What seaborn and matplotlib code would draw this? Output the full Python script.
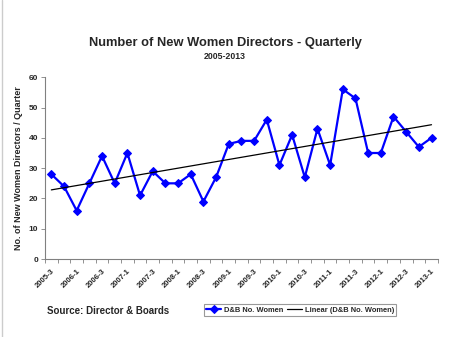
import numpy as np
import pandas as pd
import matplotlib
matplotlib.use("Agg")
import matplotlib.pyplot as plt
from matplotlib.lines import Line2D
import seaborn as sns

quarters = ["2005-3", "2005-4", "2006-1", "2006-2", "2006-3", "2006-4", "2007-1", "2007-2",
            "2007-3", "2007-4", "2008-1", "2008-2", "2008-3", "2008-4", "2009-1", "2009-2",
            "2009-3", "2009-4", "2010-1", "2010-2", "2010-3", "2010-4", "2011-1", "2011-2",
            "2011-3", "2011-4", "2012-1", "2012-2", "2012-3", "2012-4", "2013-1"]
new_women = [28, 24, 16, 25, 34, 25, 35, 21, 29, 25, 25, 28, 19, 27, 38, 39,
             39, 46, 31, 41, 27, 43, 31, 56, 53, 35, 35, 47, 42, 37, 40]
y_ticks = [0, 10, 20, 30, 40, 50, 60]

sns.set_theme(style="white")
plt.rcParams['font.family'] = ['Liberation Sans', 'DejaVu Sans']

df = pd.DataFrame({"idx": np.arange(len(quarters)), "val": new_women})

fig = plt.figure(figsize=(4.5, 3.37), dpi=100)
ax = fig.add_axes([0.1, 0.231, 0.873, 0.54])

sns.lineplot(data=df, x="idx", y="val", ax=ax, color="#0000FF", lw=1.6,
             marker="D", markersize=4.3, markeredgecolor="#0000FF",
             label="D&B No. Women", legend=False)
coef = np.polyfit(df["idx"], df["val"], 1)
trend = np.polyval(coef, df["idx"])
sns.lineplot(x=df["idx"], y=trend, ax=ax, color="black", lw=0.9,
             label="Linear (D&B No. Women)", legend=False)

ax.set_xlim(-0.5, len(quarters) - 0.5)
ax.set_ylim(0, 60)
ax.set_yticks(y_ticks)
ax.set_yticklabels([str(v) for v in y_ticks], fontsize=6, fontweight="bold")
ax.set_xticks(np.arange(0, len(quarters), 2))
ax.set_xticklabels(quarters[::2], rotation=45, ha="right", rotation_mode="anchor",
                   fontsize=5.5, fontweight="bold")
ax.set_xticks(np.arange(-0.5, len(quarters), 1), minor=True)
ax.tick_params(axis="x", which="major", length=0, pad=6)
ax.tick_params(axis="x", which="minor", length=3, width=0.6, color="#808080", bottom=True)
ax.tick_params(axis="y", length=3, width=0.6, color="#808080", left=True, pad=2)
ax.set_xlabel("")
ax.set_ylabel("No. of New Women Directors / Quarter", fontsize=6.5, fontweight="bold")
for s in ["top", "right"]:
    ax.spines[s].set_visible(False)
for s in ["left", "bottom"]:
    ax.spines[s].set_color("#808080")
    ax.spines[s].set_linewidth(0.8)

fig.text(0.5, 0.872, "Number of New Women Directors - Quarterly", ha="center",
         va="center", fontsize=9.3, fontweight="bold")
fig.text(0.5, 0.832, "2005-2013", ha="center", va="center", fontsize=6.3, fontweight="bold")
fig.text(0.105, 0.077, "Source: Director & Boards", ha="left", va="center",
         fontsize=7, fontweight="bold")

h, l = ax.get_legend_handles_labels()
leg = fig.legend(h, l, loc="center", bbox_to_anchor=(0.667, 0.08), ncol=2,
                 fontsize=5.4, frameon=True, fancybox=False, handlelength=2.0,
                 columnspacing=0.6, handletextpad=0.3, borderpad=0.3)
leg.get_frame().set_edgecolor("#808080")
leg.get_frame().set_linewidth(0.8)
for t in leg.get_texts():
    t.set_fontweight("bold")

fig.add_artist(Line2D([0.004, 0.004], [0, 1], transform=fig.transFigure,
                      color="#cccccc", lw=1))

fig.savefig("out.png", dpi=100)
